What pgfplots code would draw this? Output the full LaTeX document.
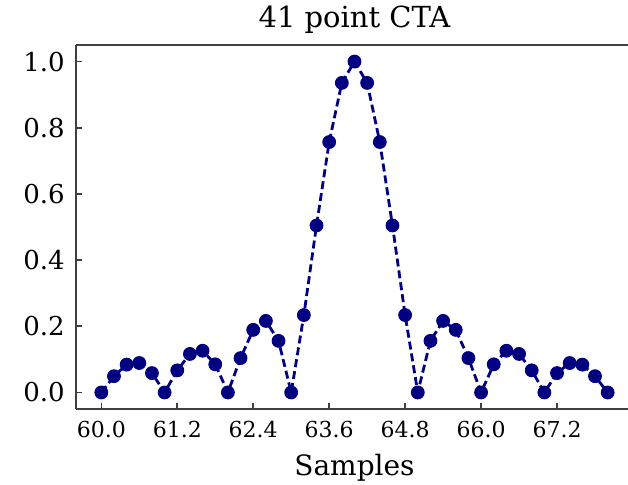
\documentclass[border=0pt]{standalone}
\usepackage{fontspec}
\setmainfont{DejaVu Serif}
\usepackage{pgfplots}
\pgfplotsset{compat=1.18}
\definecolor{navy}{RGB}{0,0,128}
\begin{document}
\begin{tikzpicture}
\begin{axis}[
  at={(0,0)}, anchor=south west,
  scale only axis, width=278.5pt, height=182pt,
  xmin=59.6, xmax=68.4, ymin=-0.05, ymax=1.05,
  axis x line*=box, axis y line*=left,
  axis line style={black!75, line width=0.9pt, -},
  tick align=inside, xtick pos=bottom, ytick pos=left,
  major tick length=3pt, tick style={black!75, line width=0.8pt},
  xtick={60.0,61.2,62.4,63.6,64.8,66.0,67.2},
  xticklabels={60.0,61.2,62.4,63.6,64.8,66.0,67.2},
  ytick={0,0.2,0.4,0.6,0.8,1.0},
  yticklabels={0.0,0.2,0.4,0.6,0.8,1.0},
  xticklabel style={font=\fontsize{11}{13}\selectfont, anchor=base, inner sep=0pt, yshift=-14pt},
  yticklabel style={font=\fontsize{13}{15}\selectfont, anchor=east, inner sep=0pt, xshift=-5.5pt},
  title={41 point CTA},
  title style={font=\fontsize{14.5}{17}\selectfont, at={(axis description cs:0.5,1)}, anchor=base, yshift=3pt},
  xlabel={Samples},
  xlabel style={font=\fontsize{14}{17}\selectfont, at={(axis description cs:0.5,0)}, anchor=base, yshift=-33pt},
]
\addplot[navy, line width=1.4pt, dash pattern=on 4pt off 2pt,
  mark=*, mark size=3.2pt, mark options={solid, fill=navy, draw=navy, line width=0.5pt}]
  coordinates {
  (60.0,0) (60.2,0.0492) (60.4,0.0841) (60.6,0.0890) (60.8,0.0585)
  (61.0,0) (61.2,0.0668) (61.4,0.1164) (61.6,0.1261) (61.8,0.0850)
  (62.0,0) (62.2,0.1039) (62.4,0.1892) (62.6,0.2162) (62.8,0.1559)
  (63.0,0) (63.2,0.2339) (63.4,0.5046) (63.6,0.7568) (63.8,0.9355)
  (64.0,1)
  (64.2,0.9355) (64.4,0.7568) (64.6,0.5046) (64.8,0.2339) (65.0,0)
  (65.2,0.1559) (65.4,0.2162) (65.6,0.1892) (65.8,0.1039) (66.0,0)
  (66.2,0.0850) (66.4,0.1261) (66.6,0.1164) (66.8,0.0668) (67.0,0)
  (67.2,0.0585) (67.4,0.0890) (67.6,0.0841) (67.8,0.0492) (68.0,0)
  };
\end{axis}
\pgfresetboundingbox
\path[use as bounding box] (-38pt,-37.5pt) rectangle (276pt,204.5pt);
\end{tikzpicture}
\end{document}
